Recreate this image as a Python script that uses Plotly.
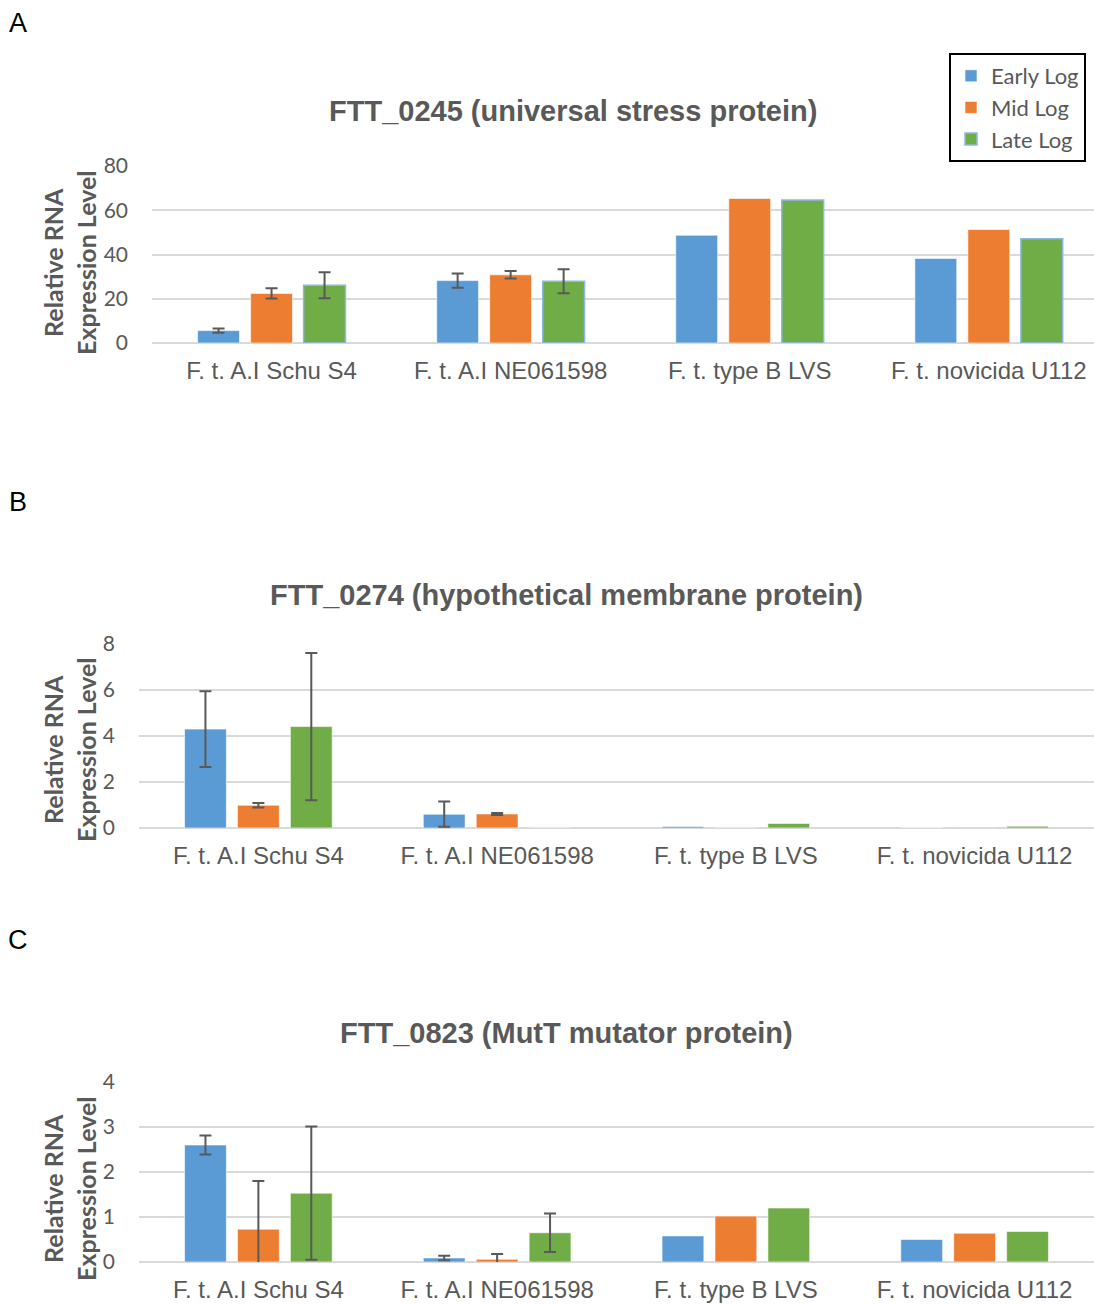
import plotly.graph_objects as go

categories = ["F. t. A.I Schu S4", "F. t. A.I NE061598", "F. t. type B LVS", "F. t. novicida U112"]
series_names = ["Early Log", "Mid Log", "Late Log"]
colors = ["#5B9BD5", "#ED7D31", "#70AD47"]

# Panel A: FTT_0245
a_early = [5.6, 28.2, 48.7, 38.2]
a_mid = [22.4, 30.8, 65.3, 51.3]
a_late = [26.1, 27.9, 64.6, 47.1]
a_early_err = [1.0, 3.2, None, None]
a_mid_err = [2.3, 1.7, None, None]
a_late_err = [5.9, 5.4, None, None]

# Panel B: FTT_0274
b_early = [4.30, 0.60, 0.07, 0.005]
b_mid = [0.99, 0.61, 0.01, 0.03]
b_late = [4.41, 0.01, 0.20, 0.08]
b_early_err = [1.65, 0.55, None, None]
b_mid_err = [0.10, 0.04, None, None]
b_late_err = [3.20, None, None, None]

# Panel C: FTT_0823
c_early = [2.60, 0.09, 0.58, 0.50]
c_mid = [0.73, 0.06, 1.02, 0.64]
c_late = [1.53, 0.65, 1.20, 0.68]
c_early_err = [0.21, 0.05, None, None]
c_mid_err = [1.07, 0.12, None, None]
c_late_err = [1.48, 0.43, None, None]

titles = ["FTT_0245 (universal stress protein)",
          "FTT_0274 (hypothetical membrane protein)",
          "FTT_0823 (MutT mutator protein)"]
panel_letters = ["A", "B", "C"]
y_ranges = [[0, 80], [0, 8], [0, 4]]
y_dticks = [20, 2, 1]

panels = [
    ([a_early, a_mid, a_late], [a_early_err, a_mid_err, a_late_err]),
    ([b_early, b_mid, b_late], [b_early_err, b_mid_err, b_late_err]),
    ([c_early, c_mid, c_late], [c_early_err, c_mid_err, c_late_err]),
]

W, H = 1094, 1304
TXT = "#595959"
FONT = "Liberation Sans, Arial, sans-serif"
CAL = "Lato, Carlito, sans-serif"

# layout geometry in pixels (top, bottom, left) per panel
plot_px = [(166, 343, 152), (644, 828, 139), (1082, 1262, 139)]
x_ranges = [[-0.5, 3.44], [-0.5, 3.5], [-0.5, 3.5]]
title_px = [(573, 111), (566, 595), (566, 1033)]
letter_px = [(18, 23), (18, 502), (18, 940)]
ylabel_px = [(69, 263), (69, 750), (69, 1189)]

fig = go.Figure()

for p, (vals, errs) in enumerate(panels):
    xa = "x" if p == 0 else f"x{p+1}"
    ya = "y" if p == 0 else f"y{p+1}"
    for s in range(3):
        line_color = "rgba(255,255,255,0.6)"
        line_w = 1
        if p == 0 and s == 2:
            line_color = "#8DB8E2"
            line_w = 1.5
        with_err = [i for i in range(4) if errs[s][i] is not None]
        without_err = [i for i in range(4) if errs[s][i] is None]
        first = True
        for idxs, has_err in ((with_err, True), (without_err, False)):
            if not idxs:
                continue
            tr = dict(
                x=[categories[i] for i in idxs],
                y=[vals[s][i] for i in idxs],
                name=series_names[s],
                legendgroup=series_names[s],
                showlegend=(p == 0 and first),
                offsetgroup=str(s),
                marker=dict(color=colors[s], line=dict(color=line_color, width=line_w)),
                xaxis=xa, yaxis=ya,
            )
            if has_err:
                tr["error_y"] = dict(type="data", array=[errs[s][i] for i in idxs],
                                     color="#595959", thickness=2, width=6)
            fig.add_trace(go.Bar(**tr))
            first = False

layout = dict(
    width=W, height=H,
    margin=dict(l=0, r=0, t=0, b=0),
    paper_bgcolor="white", plot_bgcolor="white",
    barmode="group", bargap=0.335, bargroupgap=0.21,
    font=dict(family=FONT, color=TXT),
    legend=dict(x=949 / W, y=1 - 53 / H, xanchor="left", yanchor="top",
                bordercolor="black", borderwidth=2, bgcolor="white",
                font=dict(family=CAL, size=22, color=TXT),
                tracegroupgap=0, itemwidth=30),
    annotations=[],
)

for p in range(3):
    top, bot, left = plot_px[p]
    sfx = "" if p == 0 else str(p + 1)
    layout["xaxis" + sfx] = dict(
        domain=[left / W, 1.0], range=x_ranges[p], type="category",
        categoryorder="array", categoryarray=categories,
        showgrid=False, showline=False, zeroline=False, ticks="",
        tickfont=dict(family=FONT, size=24, color=TXT),
        ticklabelstandoff=11,
        anchor="y" + sfx, automargin=False,
    )
    layout["yaxis" + sfx] = dict(
        domain=[1 - bot / H, 1 - top / H], range=y_ranges[p], dtick=y_dticks[p],
        showgrid=True, gridcolor="#D9D9D9", gridwidth=1.5,
        zeroline=True, zerolinecolor="#D9D9D9", zerolinewidth=1.5,
        showline=False, ticks="",
        tickfont=dict(family=CAL, size=21, color=TXT),
        ticklabelstandoff=23,
        anchor="x" + sfx, automargin=False,
    )
    tx, ty = title_px[p]
    layout["annotations"].append(dict(
        text=f"<b>{titles[p]}</b>", x=tx / W, y=1 - ty / H, xref="paper", yref="paper",
        xanchor="center", yanchor="middle", showarrow=False,
        font=dict(family=FONT, size=29, color=TXT)))
    lx, ly = letter_px[p]
    layout["annotations"].append(dict(
        text=panel_letters[p], x=lx / W, y=1 - ly / H, xref="paper", yref="paper",
        xanchor="center", yanchor="middle", showarrow=False,
        font=dict(family=FONT, size=27, color="black")))
    yx, yy = ylabel_px[p]
    layout["annotations"].append(dict(
        text="<b>Relative RNA<br>Expression Level</b>", x=yx / W, y=1 - yy / H,
        xref="paper", yref="paper", xanchor="center", yanchor="middle",
        showarrow=False, textangle=-90,
        font=dict(family=CAL, size=25, color=TXT)))

fig.update_layout(**layout)
fig.write_html(
    "out.html",
    config={"displayModeBar": False},
    post_script="document.body.style.margin='0';document.body.style.overflow='hidden';",
)
